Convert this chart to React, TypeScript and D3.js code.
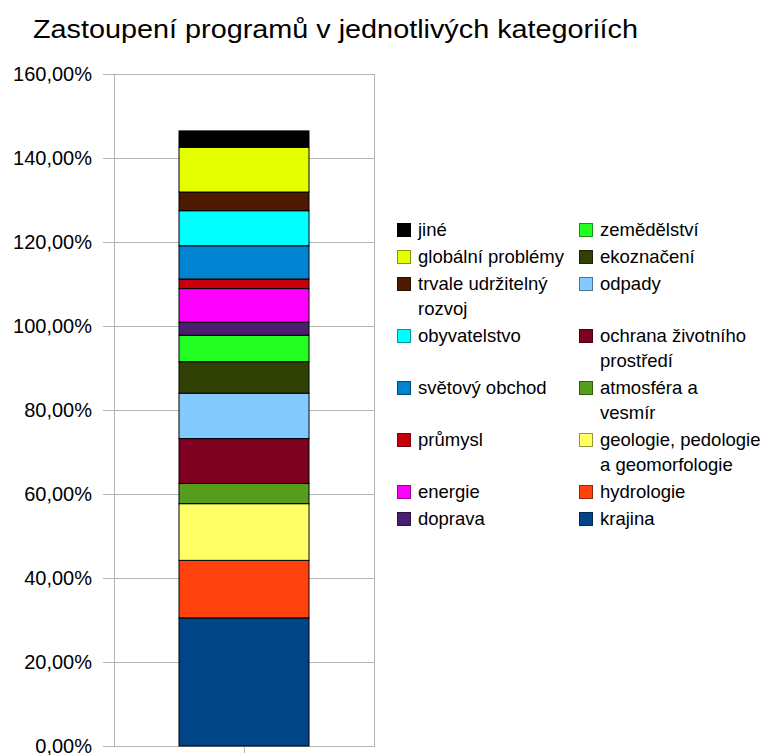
import React from "react";
import * as d3 from "d3";

// Stack order: bottom -> top
const categories = [
  "krajina",
  "hydrologie",
  "geologie, pedologie\na geomorfologie",
  "atmosféra a\nvesmír",
  "ochrana životního\nprostředí",
  "odpady",
  "ekoznačení",
  "zemědělství",
  "doprava",
  "energie",
  "průmysl",
  "světový obchod",
  "obyvatelstvo",
  "trvale udržitelný\nrozvoj",
  "globální problémy",
  "jiné",
];
const values = [30.5, 13.7, 13.5, 4.8, 10.7, 10.8, 7.5, 6.3, 3.1, 8.0, 2.3, 7.9, 8.35, 4.45, 10.65, 3.9];
const colors = [
  "#004586", "#ff420e", "#ffff66", "#579d1c", "#7e0021", "#83caff", "#314004", "#23ff23",
  "#4b1f6f", "#ff00ff", "#c5000b", "#0084d1", "#00ffff", "#4d1900", "#e6ff00", "#000000",
];
const yTicks = [0, 20, 40, 60, 80, 100, 120, 140, 160];
const title = "Zastoupení programů v jednotlivých kategoriích";

const W = 760;
const H = 755;
const FONT = "'Liberation Sans', Arial, sans-serif";

export default function App() {
  const left = 114, right = 374, top = 74, bottom = 746;
  const y = d3.scaleLinear().domain([0, 160]).range([bottom, top]);
  const x = d3.scaleBand<string>().domain(["s"]).range([left, right]).paddingInner(0).paddingOuter(0.5);
  const row: Record<string, number> = { s: 0 };
  categories.forEach((c, i) => (row[c] = values[i]));
  const series = d3.stack<any>().keys(categories)([row]);
  const locale = d3.formatLocale({ decimal: ",", thousands: " ", grouping: [3], currency: ["", " Kč"] });
  const fmt = locale.format(".2f");

  // legend: top of stack first, column-major, 8 per column
  const order = categories.map((c, i) => i).reverse();
  const perCol = 8;
  const colX = [397, 579];
  const lineH = 25;
  const rowGap = 2;
  const nRows = Math.ceil(order.length / 2);
  const rowsLines: number[] = [];
  for (let r = 0; r < nRows; r++) {
    const a = order[r];
    const b = order[r + perCol];
    const la = categories[a].split("\n").length;
    const lb = b !== undefined ? categories[b].split("\n").length : 1;
    rowsLines.push(Math.max(la, lb));
  }
  const rowY: number[] = [];
  let cy = 230;
  for (let r = 0; r < nRows; r++) {
    rowY.push(cy);
    cy += rowsLines[r] * lineH + rowGap;
  }

  const x0 = x("s") as number;
  const bw = x.bandwidth();

  return (
    <svg width={W} height={H} style={{ position: "absolute", left: 0, top: 0, background: "#fff" }} fontFamily={FONT}>
      <rect width={W} height={H} fill="#fff" />
      <text x={33} y={38} fontSize={26} textLength={605} lengthAdjust="spacingAndGlyphs" fill="#000">
        {title}
      </text>
      {/* grid and ticks */}
      {yTicks.map((t) => (
        <g key={t}>
          <line x1={103} x2={right} y1={Math.round(y(t)) + 0.5} y2={Math.round(y(t)) + 0.5} stroke="#b3b3b3" strokeWidth={1} />
          <text x={92} y={y(t)} dy="0.35em" textAnchor="end" fontSize={20} fill="#000">
            {fmt(t) + "%"}
          </text>
        </g>
      ))}
      <line x1={left + 0.5} x2={left + 0.5} y1={top} y2={bottom + 1} stroke="#b3b3b3" />
      <line x1={right + 0.5} x2={right + 0.5} y1={top} y2={bottom + 1} stroke="#b3b3b3" />
      <line x1={(left + right) / 2 + 0.5} x2={(left + right) / 2 + 0.5} y1={bottom} y2={bottom + 7} stroke="#b3b3b3" />
      {/* bars */}
      {series.map((s, i) => {
        const d = s[0];
        return (
          <rect
            key={s.key}
            x={x0}
            y={y(d[1])}
            width={bw}
            height={y(d[0]) - y(d[1])}
            fill={colors[i]}
            stroke="#000"
            strokeWidth={1}
          />
        );
      })}
      {/* legend */}
      {order.map((ci, k) => {
        const col = Math.floor(k / perCol);
        const r = k % perCol;
        const lines = categories[ci].split("\n");
        const sx = colX[col];
        const sy = rowY[r];
        const c = d3.color(colors[ci]);
        const strokeC = ci === categories.length - 1 ? "#000" : (c ? c.darker(1.5).toString() : "#333");
        return (
          <g key={ci}>
            <rect x={sx + 0.5} y={sy - 6.5} width={13} height={13} fill={colors[ci]} stroke={strokeC} />
            {lines.map((ln, j) => (
              <text key={j} x={sx + 21} y={sy + j * lineH} dy="0.35em" fontSize={18.5} fill="#000">
                {ln}
              </text>
            ))}
          </g>
        );
      })}
    </svg>
  );
}
